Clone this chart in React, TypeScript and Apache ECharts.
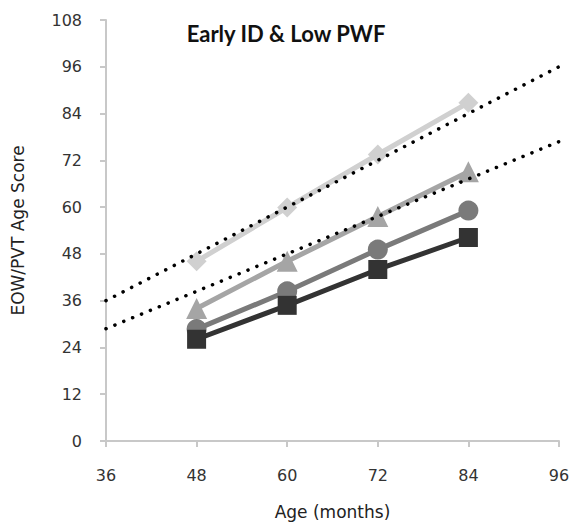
import React, { useEffect, useRef } from "react";
import * as echarts from "echarts";

const ages = [48, 60, 72, 84];
const diamondSeries = [46.1, 59.9, 73.5, 86.8];
const triangleSeries = [34.0, 46.1, 57.6, 69.1];
const circleSeries = [28.7, 38.4, 49.1, 59.1];
const squareSeries = [26.1, 34.8, 44.0, 52.2];
const refLineX = [36, 96];
const refUpper = [36, 96];
const refLower = [28.8, 76.8];

const FONT = "DejaVu Sans";

export default function App() {
  const ref = useRef<HTMLDivElement>(null);
  useEffect(() => {
    if (!ref.current) return;
    const chart = echarts.init(ref.current, undefined, { renderer: "svg" });
    const mk = (vals: number[]) => ages.map((a, i) => [a, vals[i]]);
    const mkRef = (vals: number[]) => refLineX.map((a, i) => [a, vals[i]]);
    const markerSeries = (
      name: string,
      vals: number[],
      symbol: string,
      size: number,
      color: string
    ) => ({
      name,
      type: "line",
      data: mk(vals),
      symbol,
      symbolSize: size,
      showAllSymbol: true,
      lineStyle: { color, width: 5 },
      itemStyle: { color, borderWidth: 0 },
      z: 2,
    });
    chart.setOption({
      animation: false,
      title: {
        text: "Early ID & Low PWF",
        left: 281,
        top: 17,
        textAlign: "center",
        textStyle: { fontFamily: "Lato", fontSize: 22, fontWeight: "bold", color: "#111" },
      },
      grid: { left: 106, right: 17, top: 20, bottom: 83 },
      xAxis: {
        type: "value",
        min: 36,
        max: 96,
        interval: 12,
        name: "Age (months)",
        nameLocation: "middle",
        nameGap: 62,
        nameTextStyle: { fontFamily: FONT, fontSize: 17, color: "#222" },
        axisLine: { show: true, lineStyle: { color: "#c8c8c8", width: 2 } },
        axisTick: { show: true, length: 6, lineStyle: { color: "#c8c8c8", width: 2 } },
        axisLabel: { fontFamily: FONT, fontSize: 16, color: "#333", margin: 26 },
        splitLine: { show: false },
      },
      yAxis: {
        type: "value",
        min: 0,
        max: 108,
        interval: 12,
        name: "EOW/PVT Age Score",
        nameLocation: "middle",
        nameGap: 80,
        nameRotate: 90,
        nameTextStyle: { fontFamily: FONT, fontSize: 17, color: "#222" },
        axisLine: { show: true, lineStyle: { color: "#c8c8c8", width: 2 } },
        axisTick: { show: true, length: 6, lineStyle: { color: "#c8c8c8", width: 2 } },
        axisLabel: { fontFamily: FONT, fontSize: 16, color: "#333", margin: 24 },
        splitLine: { show: false },
      },
      series: [
        markerSeries("Diamond", diamondSeries, "diamond", 20, "#d0d0d0"),
        markerSeries("Triangle", triangleSeries, "triangle", 21, "#a5a5a5"),
        markerSeries("Circle", circleSeries, "circle", 20, "#7a7a7a"),
        markerSeries("Square", squareSeries, "rect", 19, "#333333"),
        {
          name: "Upper reference",
          type: "line",
          data: mkRef(refUpper),
          symbol: "none",
          lineStyle: { color: "#000", width: 3.5, type: [0.1, 9.5], cap: "round" },
          z: 5,
        },
        {
          name: "Lower reference",
          type: "line",
          data: mkRef(refLower),
          symbol: "none",
          lineStyle: { color: "#000", width: 3.5, type: [0.1, 9.5], cap: "round" },
          z: 5,
        },
      ],
    });
    return () => chart.dispose();
  }, []);
  return (
    <div
      ref={ref}
      style={{ position: "absolute", left: 0, top: 0, width: 576, height: 525, background: "#fff" }}
    />
  );
}
